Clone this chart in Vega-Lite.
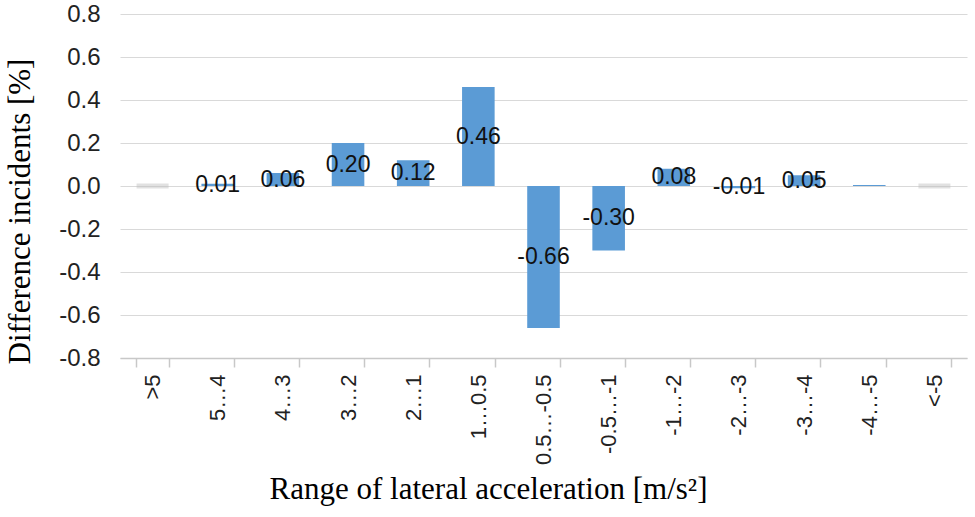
{
  "$schema": "https://vega.github.io/schema/vega-lite/v6.json",
  "autosize": {"type": "none"},
  "width": 847,
  "height": 344,
  "padding": {"left": 120, "top": 14, "right": 8, "bottom": 159},
  "background": "white",
  "data": {
    "values": [
      {"range": ">5", "diff": 0, "label": null},
      {"range": "5…4", "diff": 0.01, "label": "0.01"},
      {"range": "4…3", "diff": 0.06, "label": "0.06"},
      {"range": "3…2", "diff": 0.20, "label": "0.20"},
      {"range": "2…1", "diff": 0.12, "label": "0.12"},
      {"range": "1…0.5", "diff": 0.46, "label": "0.46"},
      {"range": "0.5…-0.5", "diff": -0.66, "label": "-0.66"},
      {"range": "-0.5…-1", "diff": -0.30, "label": "-0.30"},
      {"range": "-1…-2", "diff": 0.08, "label": "0.08"},
      {"range": "-2…-3", "diff": -0.01, "label": "-0.01"},
      {"range": "-3…-4", "diff": 0.05, "label": "0.05"},
      {"range": "-4…-5", "diff": 0.005, "label": null},
      {"range": "<-5", "diff": 0, "label": null}
    ]
  },
  "encoding": {
    "x": {
      "field": "range",
      "type": "nominal",
      "sort": [">5", "5…4", "4…3", "3…2", "2…1", "1…0.5", "0.5…-0.5", "-0.5…-1", "-1…-2", "-2…-3", "-3…-4", "-4…-5", "<-5"],
      "scale": {"paddingInner": 0.5, "paddingOuter": 0.25},
      "axis": {
        "title": "Range of lateral acceleration [m/s²]",
        "titleFont": "Liberation Serif",
        "titleFontSize": 31,
        "titleFontWeight": "normal",
        "titleColor": "#000",
        "titlePadding": 10,
        "titleX": 368,
        "titleAlign": "center",
        "labelAngle": 270,
        "labelFont": "Liberation Sans",
        "labelFontSize": 22,
        "labelColor": "#222",
        "labelPadding": 7,
        "tickBand": "extent",
        "tickColor": "#c8c8c8",
        "tickSize": 9,
        "tickWidth": 1.5,
        "domainColor": "#c8c8c8",
        "domainWidth": 1.5,
        "grid": false
      }
    },
    "y": {
      "field": "diff",
      "type": "quantitative",
      "scale": {"domain": [-0.8, 0.8], "nice": false, "zero": false},
      "axis": {
        "title": "Difference incidents [%]",
        "titleFont": "Liberation Serif",
        "titleFontSize": 31,
        "titleFontWeight": "normal",
        "titleColor": "#000",
        "titlePadding": 22,
        "titleY": 197,
        "titleAlign": "center",
        "values": [-0.8, -0.6, -0.4, -0.2, 0, 0.2, 0.4, 0.6, 0.8],
        "labelExpr": "replace(format(datum.value, '.1f'), '−', '-')",
        "labelFont": "Liberation Sans",
        "labelFontSize": 24,
        "labelColor": "#222",
        "labelPadding": 20,
        "ticks": false,
        "domain": false,
        "gridColor": "#d9d9d9",
        "gridWidth": 1.2
      }
    }
  },
  "layer": [
    {
      "transform": [{"filter": "datum.diff == 0"}],
      "mark": {"type": "tick", "color": "#bdbdbd", "opacity": 0.45, "thickness": 5, "size": 32}
    },
    {
      "mark": {"type": "bar", "color": "#5b9bd5"},
      "encoding": {"y2": {"datum": 0}}
    },
    {
      "transform": [
        {"filter": "datum.label != null"},
        {"calculate": "datum.diff / 2", "as": "mid"}
      ],
      "mark": {"type": "text", "font": "Liberation Sans", "fontSize": 23, "color": "#111", "baseline": "middle"},
      "encoding": {
        "y": {"field": "mid", "type": "quantitative"},
        "text": {"field": "label"}
      }
    }
  ],
  "config": {"view": {"stroke": null}}
}
